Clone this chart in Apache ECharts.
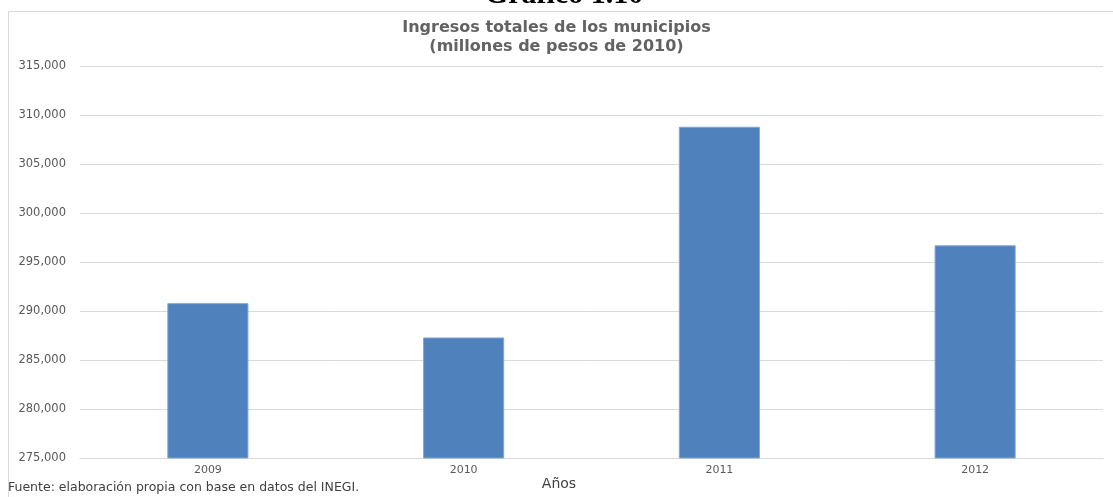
<!DOCTYPE html>
<html>
<head>
<meta charset="utf-8">
<script src="https://cdn.jsdelivr.net/npm/echarts@6/dist/echarts.min.js"></script>
<style>
  html, body { margin: 0; padding: 0; background: #ffffff; }
  #chart { width: 1113px; height: 497px; }
</style>
</head>
<body>
<div id="chart"></div>
<script>
// Ingresos totales de los municipios, millones de pesos de 2010
const years = ['2009', '2010', '2011', '2012'];
const ingresos = [290800, 287300, 308800, 296700];
const yTicks = { min: 275000, max: 315000, step: 5000 };

const chart = echarts.init(document.getElementById('chart'));
const gray = '#595959';

chart.setOption({
  animation: false,
  backgroundColor: '#ffffff',
  title: {
    text: 'Ingresos totales de los municipios\n(millones de pesos de 2010)',
    left: 'center',
    top: 13,
    textStyle: {
      fontFamily: 'DejaVu Sans',
      fontWeight: 'bold',
      fontSize: 16,
      lineHeight: 19,
      color: '#626262'
    }
  },
  graphic: [
    {
      type: 'rect',
      shape: { x: 8.5, y: 11.5, width: 1200, height: 600 },
      style: { fill: 'none', stroke: '#d9d9d9', lineWidth: 1 },
      silent: true,
      z: -1
    },
    {
      type: 'text',
      x: 564,
      y: 10,
      style: {
        text: 'Gráfico 1.10',
        font: 'bold 30px "Liberation Serif"',
        fill: '#000000',
        align: 'center',
        verticalAlign: 'bottom'
      }
    },
    {
      type: 'text',
      x: 8,
      y: 488,
      style: {
        text: 'Fuente: elaboración propia con base en datos del INEGI.',
        font: '12.5px "DejaVu Sans"',
        fill: '#404040',
        align: 'left',
        verticalAlign: 'middle'
      }
    },
    {
      type: 'text',
      x: 559,
      y: 484,
      style: {
        text: 'Años',
        font: '14px "DejaVu Sans"',
        fill: '#404040',
        align: 'center',
        verticalAlign: 'middle'
      }
    }
  ],
  grid: { left: 80, right: 10, top: 66, bottom: 39 },
  xAxis: {
    type: 'category',
    data: years,
    axisLine: { show: true, lineStyle: { color: '#d9d9d9' } },
    axisTick: { show: false },
    axisLabel: {
      color: gray,
      fontFamily: 'DejaVu Sans',
      fontSize: 11,
      margin: 7
    }
  },
  yAxis: {
    type: 'value',
    min: yTicks.min,
    max: yTicks.max,
    interval: yTicks.step,
    axisLine: { show: false },
    axisTick: { show: false },
    splitLine: { lineStyle: { color: '#d9d9d9' } },
    axisLabel: {
      color: gray,
      fontFamily: 'DejaVu Sans',
      fontSize: 11.5,
      margin: 14,
      formatter: v => v.toLocaleString('en-US')
    }
  },
  series: [{
    type: 'bar',
    data: ingresos,
    barWidth: '31.7%',
    itemStyle: {
      color: '#4f81bd',
      borderColor: '#7ea5d6',
      borderWidth: 1
    }
  }]
});
</script>
</body>
</html>
